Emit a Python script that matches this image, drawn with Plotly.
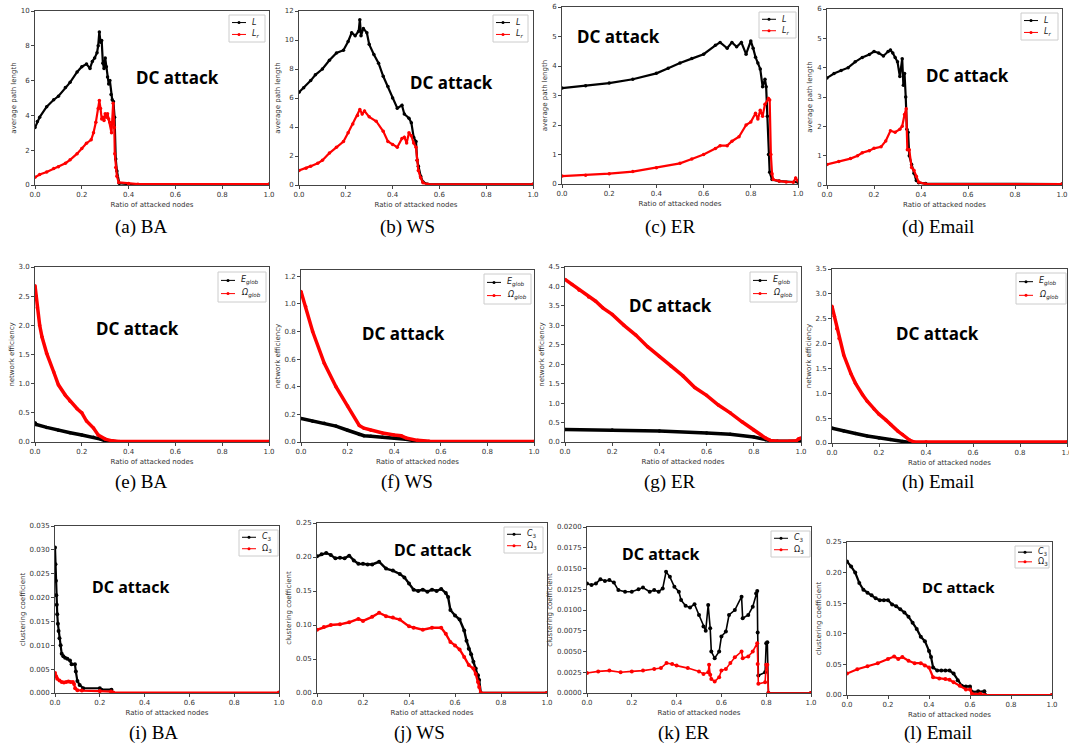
import plotly.graph_objects as go

W, H = 1069, 747

# ---------------- data ----------------
# (a) BA - average path length
a_xL = [0, 0.01, 0.02, 0.05, 0.08, 0.1, 0.13, 0.15, 0.18, 0.2, 0.22, 0.235, 0.245, 0.255, 0.265, 0.27, 0.275, 0.28, 0.285, 0.29, 0.295, 0.3, 0.305, 0.31, 0.315, 0.32, 0.325, 0.33, 0.335, 0.34, 0.345, 0.35, 0.36, 0.4, 1.0]
a_L = [3.3, 3.65, 3.9, 4.5, 4.9, 5.1, 5.6, 5.9, 6.5, 6.8, 6.95, 6.7, 7.1, 7.3, 7.6, 8.0, 8.8, 8.2, 8.3, 7.0, 6.7, 7.3, 6.8, 6.2, 5.8, 6.0, 5.2, 4.9, 4.8, 3.9, 1.5, 0.8, 0.1, 0.05, 0.05]
a_xLr = [0, 0.02, 0.05, 0.08, 0.1, 0.13, 0.15, 0.18, 0.2, 0.22, 0.24, 0.25, 0.26, 0.27, 0.275, 0.28, 0.285, 0.29, 0.295, 0.3, 0.305, 0.31, 0.315, 0.32, 0.327, 0.334, 0.339, 0.341, 0.345, 0.35, 0.358, 0.4, 0.44, 1.0]
a_Lr = [0.45, 0.6, 0.75, 0.95, 1.05, 1.25, 1.45, 1.8, 2.1, 2.4, 2.6, 3.0, 3.6, 4.4, 4.85, 4.4, 3.8, 3.9, 3.7, 4.1, 3.9, 4.1, 3.8, 3.6, 3.0, 4.7, 3.3, 1.8, 1.0, 0.5, 0.15, 0.08, 0.05, 0.05]

# (b) WS - average path length
b_xL = [0, 0.02, 0.05, 0.07, 0.1, 0.13, 0.16, 0.19, 0.21, 0.225, 0.24, 0.255, 0.26, 0.265, 0.275, 0.29, 0.3, 0.32, 0.34, 0.36, 0.38, 0.4, 0.42, 0.44, 0.45, 0.47, 0.48, 0.49, 0.5, 0.505, 0.51, 0.52, 0.53, 0.55, 1.0]
b_L = [6.4, 6.7, 7.2, 7.6, 8.0, 8.6, 9.1, 9.3, 9.9, 10.5, 10.3, 10.6, 11.4, 10.3, 10.8, 10.5, 9.7, 9.0, 8.4, 7.5, 6.8, 6.0, 5.3, 5.5, 4.9, 4.6, 4.3, 3.3, 3.0, 1.7, 1.3, 0.6, 0.2, 0.05, 0.05]
b_xLr = [0, 0.03, 0.05, 0.08, 0.1, 0.13, 0.16, 0.19, 0.21, 0.23, 0.25, 0.26, 0.27, 0.28, 0.3, 0.33, 0.36, 0.38, 0.4, 0.42, 0.44, 0.45, 0.46, 0.47, 0.48, 0.49, 0.5, 0.505, 0.51, 0.52, 0.53, 0.55, 1.0]
b_Lr = [1.0, 1.15, 1.3, 1.5, 1.7, 2.2, 2.6, 3.0, 3.6, 4.2, 4.8, 5.2, 4.9, 5.1, 4.7, 4.4, 3.7, 3.0, 2.8, 2.6, 3.2, 3.3, 2.9, 3.6, 3.4, 2.9, 2.6, 1.7, 1.0, 0.5, 0.15, 0.05, 0.05]

# (c) ER - average path length
c_xL = [0, 0.1, 0.2, 0.3, 0.4, 0.45, 0.5, 0.55, 0.6, 0.65, 0.67, 0.7, 0.72, 0.74, 0.76, 0.78, 0.8, 0.81, 0.82, 0.83, 0.84, 0.85, 0.86, 0.865, 0.87, 0.875, 0.88, 0.89, 0.92, 1.0]
c_L = [3.25, 3.33, 3.42, 3.55, 3.75, 3.92, 4.1, 4.25, 4.4, 4.7, 4.8, 4.6, 4.8, 4.65, 4.8, 4.4, 4.85, 4.6, 4.3, 4.1, 3.9, 3.3, 3.55, 3.3, 2.3, 1.0, 0.4, 0.15, 0.1, 0.06]
c_xLr = [0, 0.1, 0.2, 0.3, 0.4, 0.5, 0.55, 0.6, 0.65, 0.67, 0.7, 0.72, 0.75, 0.78, 0.8, 0.82, 0.83, 0.84, 0.85, 0.86, 0.875, 0.88, 0.885, 0.89, 0.895, 0.92, 0.95, 0.98, 0.99, 1.0]
c_Lr = [0.27, 0.3, 0.35, 0.42, 0.55, 0.7, 0.85, 1.0, 1.2, 1.3, 1.3, 1.45, 1.6, 2.0, 2.1, 2.4, 2.2, 2.5, 2.3, 2.7, 2.9, 2.85, 1.0, 0.35, 0.15, 0.1, 0.07, 0.06, 0.2, 0.1]

# (d) Email - average path length
d_xL = [0, 0.03, 0.06, 0.09, 0.12, 0.15, 0.18, 0.2, 0.22, 0.24, 0.26, 0.27, 0.28, 0.29, 0.3, 0.31, 0.32, 0.325, 0.33, 0.335, 0.34, 0.345, 0.35, 0.36, 0.37, 0.38, 0.39, 0.42, 1.0]
d_L = [3.65, 3.8, 3.9, 4.0, 4.2, 4.35, 4.45, 4.55, 4.5, 4.4, 4.55, 4.6, 4.5, 4.35, 4.2, 3.7, 4.3, 3.4, 3.8, 3.0, 1.9, 1.8, 1.0, 0.7, 0.4, 0.15, 0.08, 0.05, 0.03]
d_xLr = [0, 0.05, 0.1, 0.13, 0.15, 0.18, 0.2, 0.23, 0.25, 0.27, 0.29, 0.31, 0.32, 0.33, 0.337, 0.342, 0.35, 0.36, 0.37, 0.38, 0.39, 0.42, 1.0]
d_Lr = [0.7, 0.8, 0.9, 1.0, 1.1, 1.17, 1.25, 1.3, 1.5, 1.85, 1.8, 1.9, 2.0, 2.4, 2.6, 1.2, 1.2, 0.6, 0.5, 0.3, 0.1, 0.03, 0.03]

# (e) BA - network efficiency
e_xE = [0, 0.005, 0.05, 0.1, 0.15, 0.2, 0.25, 0.28, 0.3, 0.33, 0.36, 1.0]
e_E = [0.33, 0.3, 0.25, 0.2, 0.16, 0.12, 0.08, 0.05, 0.02, 0.01, 0.0, 0.0]
e_xO = [0, 0.005, 0.01, 0.02, 0.03, 0.05, 0.08, 0.1, 0.13, 0.15, 0.18, 0.2, 0.22, 0.25, 0.27, 0.3, 0.33, 0.36, 1.0]
e_O = [2.68, 2.5, 2.3, 2.0, 1.8, 1.52, 1.2, 0.98, 0.8, 0.7, 0.57, 0.5, 0.36, 0.24, 0.12, 0.05, 0.02, 0.01, 0.01]

# (f) WS - network efficiency
f_xE = [0, 0.05, 0.1, 0.15, 0.2, 0.25, 0.27, 0.3, 0.35, 0.4, 0.43, 0.45, 0.5, 0.55, 1.0]
f_E = [0.17, 0.15, 0.135, 0.115, 0.085, 0.055, 0.045, 0.042, 0.035, 0.03, 0.028, 0.02, 0.005, 0.002, 0.0]
f_xO = [0, 0.02, 0.05, 0.1, 0.15, 0.2, 0.25, 0.27, 0.3, 0.35, 0.4, 0.43, 0.45, 0.5, 0.55, 1.0]
f_O = [1.09, 0.98, 0.8, 0.57, 0.4, 0.26, 0.12, 0.1, 0.085, 0.065, 0.05, 0.045, 0.03, 0.012, 0.005, 0.003]

# (g) ER - network efficiency
g_xE = [0, 0.2, 0.4, 0.6, 0.7, 0.8, 0.85, 0.88, 0.9, 1.0]
g_E = [0.32, 0.31, 0.28, 0.23, 0.2, 0.13, 0.06, 0.02, 0.02, 0.02]
g_xO = [0, 0.03, 0.06, 0.1, 0.13, 0.16, 0.2, 0.25, 0.3, 0.35, 0.4, 0.45, 0.5, 0.55, 0.6, 0.65, 0.7, 0.75, 0.8, 0.85, 0.87, 0.9, 0.95, 0.98, 0.99, 1.0]
g_O = [4.18, 4.05, 3.9, 3.73, 3.62, 3.45, 3.28, 3.0, 2.75, 2.45, 2.2, 1.95, 1.7, 1.4, 1.2, 0.95, 0.75, 0.52, 0.3, 0.1, 0.04, 0.02, 0.02, 0.03, 0.08, 0.1]

# (h) Email - network efficiency
h_xE = [0, 0.05, 0.1, 0.15, 0.2, 0.25, 0.3, 0.33, 0.36, 1.0]
h_E = [0.3, 0.24, 0.19, 0.14, 0.1, 0.07, 0.03, 0.01, 0.0, 0.0]
h_xO = [0, 0.01, 0.02, 0.03, 0.05, 0.08, 0.1, 0.13, 0.15, 0.18, 0.2, 0.23, 0.25, 0.28, 0.3, 0.33, 0.35, 0.4, 1.0]
h_O = [2.75, 2.55, 2.3, 2.1, 1.77, 1.4, 1.2, 0.97, 0.84, 0.68, 0.58, 0.46, 0.37, 0.24, 0.17, 0.06, 0.02, 0.02, 0.02]

# (i) BA - clustering coefficient
i_xC = [0, 0.002, 0.004, 0.006, 0.008, 0.01, 0.013, 0.016, 0.02, 0.025, 0.03, 0.037, 0.045, 0.055, 0.067, 0.074, 0.089, 0.093, 0.1, 0.11, 0.126, 0.2, 0.207, 0.252, 0.256, 1.0]
i_C = [0.0305, 0.027, 0.0235, 0.0205, 0.0185, 0.0165, 0.0145, 0.013, 0.0115, 0.01, 0.0082, 0.0077, 0.0074, 0.0072, 0.0068, 0.006, 0.006, 0.0045, 0.0025, 0.0017, 0.001, 0.001, 0.0007, 0.0007, 0.0, 0.0]
i_xO = [0, 0.005, 0.01, 0.02, 0.03, 0.04, 0.05, 0.06, 0.07, 0.08, 0.085, 0.09, 0.1, 0.12, 0.2, 0.25, 0.26, 1.0]
i_O = [0.0042, 0.0035, 0.003, 0.0026, 0.0023, 0.0022, 0.0023, 0.0024, 0.0023, 0.0023, 0.0019, 0.001, 0.0006, 0.0005, 0.0004, 0.0003, 0.0001, 0.0001]

# (j) WS - clustering coefficient
j_xC = [0, 0.02, 0.04, 0.06, 0.08, 0.1, 0.12, 0.14, 0.16, 0.18, 0.2, 0.22, 0.24, 0.27, 0.3, 0.33, 0.36, 0.38, 0.4, 0.42, 0.44, 0.46, 0.48, 0.5, 0.52, 0.54, 0.56, 0.57, 0.58, 0.6, 0.62, 0.64, 0.65, 0.66, 0.67, 0.68, 0.69, 0.7, 0.705, 0.712, 1.0]
j_C = [0.201, 0.204, 0.206, 0.203, 0.198, 0.199, 0.198, 0.202, 0.195, 0.19, 0.19, 0.189, 0.189, 0.193, 0.183, 0.18, 0.175, 0.17, 0.161, 0.152, 0.15, 0.152, 0.149, 0.152, 0.15, 0.153, 0.147, 0.141, 0.122, 0.114, 0.108, 0.092, 0.077, 0.065, 0.057, 0.046, 0.036, 0.026, 0.019, 0.0, 0.0]
j_xO = [0, 0.03, 0.06, 0.1, 0.14, 0.18, 0.2, 0.24, 0.27, 0.3, 0.33, 0.36, 0.4, 0.42, 0.46, 0.5, 0.54, 0.56, 0.58, 0.6, 0.62, 0.64, 0.66, 0.68, 0.69, 0.7, 0.705, 0.712, 1.0]
j_O = [0.093, 0.097, 0.1, 0.101, 0.104, 0.109, 0.106, 0.112, 0.118, 0.113, 0.111, 0.108, 0.098, 0.096, 0.093, 0.096, 0.096, 0.087, 0.075, 0.07, 0.064, 0.053, 0.041, 0.036, 0.028, 0.016, 0.009, 0.0, 0.0]

# (k) ER - clustering coefficient
k_xC = [0, 0.02, 0.04, 0.06, 0.08, 0.1, 0.12, 0.14, 0.17, 0.2, 0.23, 0.25, 0.28, 0.3, 0.32, 0.338, 0.353, 0.37, 0.39, 0.41, 0.42, 0.44, 0.46, 0.48, 0.5, 0.52, 0.53, 0.541, 0.55, 0.555, 0.57, 0.59, 0.6, 0.62, 0.634, 0.66, 0.69, 0.695, 0.72, 0.74, 0.755, 0.76, 0.762, 0.765, 0.795, 0.8, 0.805, 0.81, 1.0]
k_C = [0.0132, 0.013, 0.0132, 0.0137, 0.0135, 0.0136, 0.0133, 0.0124, 0.0122, 0.0122, 0.0125, 0.0127, 0.0122, 0.0124, 0.0122, 0.0126, 0.0146, 0.014, 0.0128, 0.0122, 0.0112, 0.0105, 0.0103, 0.0107, 0.0094, 0.008, 0.0075, 0.0106, 0.0078, 0.005, 0.0042, 0.005, 0.0068, 0.0074, 0.0094, 0.01, 0.0116, 0.009, 0.0094, 0.0104, 0.012, 0.0123, 0.0073, 0.0021, 0.0025, 0.006, 0.0061, 0.0, 0.0]
k_xO = [0, 0.05, 0.1, 0.15, 0.2, 0.25, 0.3, 0.33, 0.355, 0.38, 0.4, 0.45, 0.5, 0.52, 0.541, 0.545, 0.55, 0.555, 0.57, 0.59, 0.6, 0.62, 0.64, 0.66, 0.69, 0.695, 0.72, 0.74, 0.76, 0.762, 0.765, 0.795, 0.8, 0.805, 0.81, 1.0]
k_O = [0.0024, 0.0026, 0.0027, 0.0025, 0.0026, 0.0027, 0.0029, 0.003, 0.0036, 0.0035, 0.0033, 0.003, 0.0026, 0.0023, 0.0025, 0.0034, 0.0022, 0.0017, 0.0014, 0.0019, 0.0027, 0.0029, 0.0036, 0.0043, 0.005, 0.0042, 0.0044, 0.005, 0.006, 0.0035, 0.0011, 0.0013, 0.0034, 0.0034, 0.0, 0.0]

# (l) Email - clustering coefficient
l_xC = [0, 0.02, 0.04, 0.06, 0.08, 0.1, 0.12, 0.14, 0.16, 0.18, 0.2, 0.22, 0.24, 0.26, 0.28, 0.3, 0.32, 0.34, 0.36, 0.38, 0.4, 0.41, 0.42, 0.44, 0.46, 0.48, 0.5, 0.52, 0.54, 0.56, 0.58, 0.6, 0.61, 0.64, 0.67, 0.675, 1.0]
l_C = [0.218, 0.21, 0.2, 0.183, 0.172, 0.167, 0.163, 0.158, 0.155, 0.155, 0.155, 0.148, 0.145, 0.14, 0.135, 0.128, 0.118, 0.108, 0.095, 0.088, 0.072, 0.062, 0.045, 0.04, 0.04, 0.04, 0.04, 0.035, 0.024, 0.015, 0.014, 0.014, 0.005, 0.006, 0.006, 0.0, 0.0]
l_xO = [0, 0.05, 0.1, 0.15, 0.2, 0.23, 0.25, 0.27, 0.3, 0.33, 0.36, 0.38, 0.4, 0.42, 0.45, 0.48, 0.5, 0.52, 0.55, 0.58, 0.6, 0.61, 0.65, 0.67, 1.0]
l_O = [0.035, 0.042, 0.047, 0.052, 0.059, 0.063, 0.059, 0.062, 0.056, 0.052, 0.052, 0.048, 0.045, 0.029, 0.027, 0.026, 0.025, 0.021, 0.015, 0.009, 0.009, 0.002, 0.002, 0.0, 0.0]

x_ticks = [0, 0.2, 0.4, 0.6, 0.8, 1.0]
captions = ["(a) BA", "(b) WS", "(c) ER", "(d) Email", "(e) BA", "(f) WS", "(g) ER", "(h) Email",
            "(i) BA", "(j) WS", "(k) ER", "(l) Email"]
y_titles = ["average path length"] * 4 + ["network efficiency"] * 4 + ["clustering coefficient"] * 4
names_row1 = ["<i>L</i>", "<i>L<sub>r</sub></i>"]
names_row2 = ["<i>E<sub>glob</sub></i>", "<i>Ω<sub>glob</sub></i>"]
names_row3 = ["<i>C</i><sub>3</sub>", "Ω<sub>3</sub>"]

series = [
    (a_xL, a_L, a_xLr, a_Lr), (b_xL, b_L, b_xLr, b_Lr), (c_xL, c_L, c_xLr, c_Lr), (d_xL, d_L, d_xLr, d_Lr),
    (e_xE, e_E, e_xO, e_O), (f_xE, f_E, f_xO, f_O), (g_xE, g_E, g_xO, g_O), (h_xE, h_E, h_xO, h_O),
    (i_xC, i_C, i_xO, i_O), (j_xC, j_C, j_xO, j_O), (k_xC, k_C, k_xO, k_O), (l_xC, l_C, l_xO, l_O),
]

# ---------------- layout specification (pixels) ----------------
boxes = [(35, 269, 11, 185), (299, 533, 11, 185), (562, 798, 7, 184), (827, 1062, 9, 185),
         (35, 269, 267, 442), (301, 534, 270, 442), (565, 801, 267, 442), (832, 1067, 269, 443),
         (55, 279, 526, 693), (317, 547, 523, 693), (587, 811, 527, 693), (847, 1052, 542, 695)]
yaxes = [((0, 10), 2, "d"), ((0, 12), 2, "d"), ((0, 6), 1, "d"), ((0, 6), 1, "d"),
         ((0, 3), 0.5, ".1f"), ((0, 1.245), 0.2, ".1f"), ((0, 4.5), 0.5, ".1f"), ((0, 3.5), 0.5, ".1f"),
         ((0, 0.035), 0.005, ".3f"), ((0, 0.25), 0.05, ".2f"), ((0, 0.02), 0.0025, ".4f"), ((0, 0.25), 0.05, ".2f")]
line_w = [2.2, 2.2, 2.2, 2.2, 3.5, 3.5, 3.5, 3.5, 2.2, 2.4, 1.6, 2.2]
dc_pos = [(0.607, 0.62, 17), (0.65, 0.59, 17), (0.24, 0.836, 17), (0.596, 0.62, 17),
          (0.436, 0.65, 17), (0.44, 0.63, 17), (0.445, 0.78, 17), (0.447, 0.63, 17),
          (0.335, 0.635, 16), (0.5, 0.84, 16), (0.33, 0.84, 16), (0.546, 0.706, 15)]
cap_pos = [(141, 227), (407, 227), (670, 227), (938, 227),
           (141, 482), (407, 482), (670, 482), (938, 482),
           (153, 733), (419, 733), (684, 733), (938, 733)]
# legend boxes: left, top, right, bottom (px)
leg_box = [(229, 15, 265, 42), (493, 15, 528, 42), (759, 12, 796, 38), (1021, 13, 1058, 40),
           (218, 272, 266, 302), (484, 274, 531, 304), (750, 272, 797, 302), (1016, 273, 1066, 304),
           (239, 530, 278, 556), (504, 527, 543, 553), (771, 531, 810, 557), (1015, 546, 1049, 568)]

fig = go.Figure()
layout = dict(width=W, height=H, margin=dict(l=0, r=0, t=0, b=0),
              paper_bgcolor="white", plot_bgcolor="white", showlegend=False)
annotations = []
shapes = []


def px(x):
    return x / W


def py(y):
    return 1 - y / H


for p in range(12):
    n = p + 1
    sfx = "" if n == 1 else str(n)
    row = p // 4
    l, r, t, b = boxes[p]
    (y0, y1), dt, fmt = yaxes[p]
    names = [names_row1, names_row2, names_row3][row]
    lw = line_w[p]
    ms = 3.5 if row < 2 else 4
    xs1, ys1, xs2, ys2 = series[p]
    colors = ("#000000", "#ff0000")
    for xs, ys, col, nm in ((xs1, ys1, colors[0], names[0]), (xs2, ys2, colors[1], names[1])):
        fig.add_trace(go.Scatter(
            x=xs, y=ys, mode="lines+markers", name=nm,
            line=dict(color=col, width=lw), marker=dict(color=col, size=ms),
            xaxis="x" + sfx, yaxis="y" + sfx))

    ticks_y = []
    v = y0
    while v <= y1 + 1e-9:
        ticks_y.append(round(v, 6))
        v += dt
    axis_common = dict(showline=True, mirror=True, linecolor="#444", linewidth=1,
                       ticks="outside", ticklen=3, tickcolor="#444", showgrid=False, zeroline=False,
                       tickfont=dict(family="DejaVu Sans", size=7, color="#333"), automargin=False,
                       ticklabeloverflow="allow")
    layout["xaxis" + sfx] = dict(domain=[px(l), px(r)], range=[0, 1], anchor="y" + sfx,
                                 tickvals=x_ticks, tickformat=".1f",
                                 title=dict(text="Ratio of attacked nodes", standoff=3,
                                            font=dict(family="DejaVu Sans", size=7, color="#333")),
                                 **axis_common)
    layout["yaxis" + sfx] = dict(domain=[py(b), py(t)], range=[y0, y1], anchor="x" + sfx,
                                 tickvals=ticks_y, tickformat=fmt,
                                 title=dict(text=y_titles[p], standoff=3,
                                            font=dict(family="DejaVu Sans", size=7, color="#333")),
                                 **axis_common)

    # legend box (drawn like matplotlib's legend)
    ll, lt, lr, lb = leg_box[p]
    shapes.append(dict(type="rect", xref="paper", yref="paper", x0=px(ll), x1=px(lr), y0=py(lb), y1=py(lt),
                       line=dict(color="#cccccc", width=1), fillcolor="white", layer="above"))
    hgt = lb - lt
    for k, (col, nm) in enumerate(zip(colors, names)):
        yy = lt + hgt * (0.28 if k == 0 else 0.72)
        shapes.append(dict(type="line", xref="paper", yref="paper", x0=px(ll + 3), x1=px(ll + 17),
                           y0=py(yy), y1=py(yy), line=dict(color=col, width=1), layer="above"))
        shapes.append(dict(type="circle", xref="paper", yref="paper", x0=px(ll + 8.5), x1=px(ll + 11.5),
                           y0=py(yy + 1.5), y1=py(yy - 1.5), line=dict(color=col, width=0),
                           fillcolor=col, layer="above"))
        annotations.append(dict(text=nm, xref="paper", yref="paper", x=px(ll + 21), y=py(yy),
                                showarrow=False, xanchor="left", yanchor="middle",
                                font=dict(family="DejaVu Sans", size=8, color="#222")))

    dx, dy, fs = dc_pos[p]
    annotations.append(dict(text="<b>DC attack</b>", xref="x" + sfx + " domain", yref="y" + sfx + " domain",
                            x=dx, y=dy, showarrow=False, xanchor="center", yanchor="middle",
                            font=dict(family="Noto Sans", size=fs, color="black")))
    cx, cy = cap_pos[p]
    annotations.append(dict(text=captions[p], xref="paper", yref="paper", x=px(cx), y=py(cy),
                            showarrow=False, xanchor="center", yanchor="middle",
                            font=dict(family="Liberation Serif", size=19, color="black")))

layout["annotations"] = annotations
layout["shapes"] = shapes
fig.update_layout(**layout)
fig.write_html("out.html", config={"displayModeBar": False},
               post_script="document.body.style.margin='0';")
